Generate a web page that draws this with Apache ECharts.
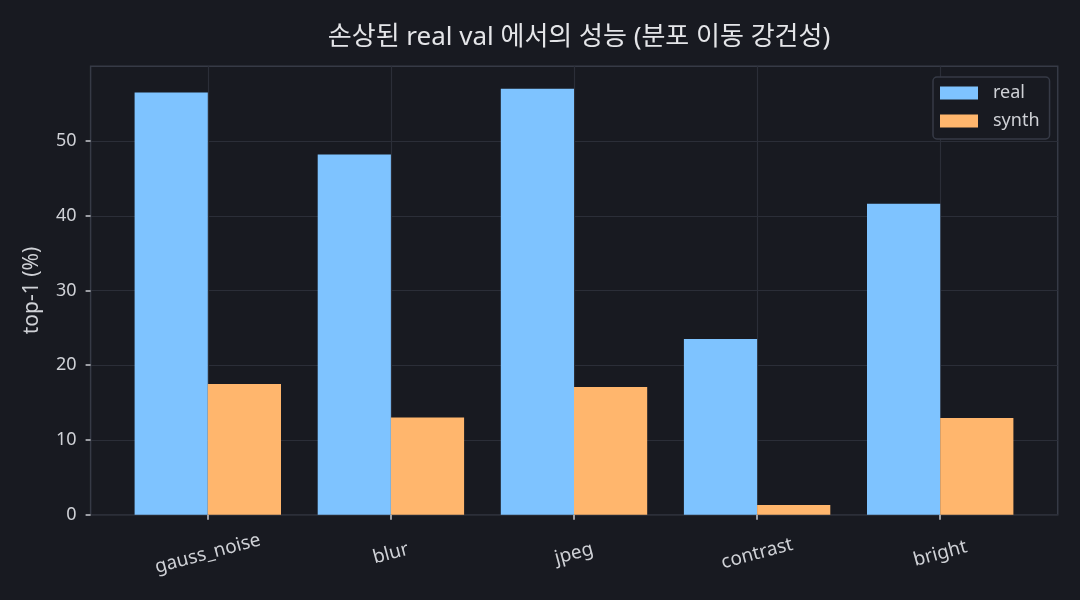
<!DOCTYPE html>
<html>
<head>
<meta charset="utf-8">
<script src="https://cdn.jsdelivr.net/npm/echarts@6/dist/echarts.min.js"></script>
<style>
html,body{margin:0;padding:0;background:#181a21;}
#chart{width:1080px;height:600px;}
</style>
</head>
<body>
<div id="chart"></div>
<script>
const categories = ['gauss_noise', 'blur', 'jpeg', 'contrast', 'bright'];
const realValues = [56.5, 48.2, 57.0, 23.5, 41.6];
const synthValues = [17.5, 13.0, 17.1, 1.3, 12.95];
const seriesNames = ['real', 'synth'];
const yTicks = [0, 10, 20, 30, 40, 50];
const titleText = '손상된 real val 에서의 성능 (분포 이동 강건성)';
const yAxisName = 'top-1 (%)';

const FONT = '"Noto Sans", "Noto Sans CJK KR", sans-serif';
const BG = '#181a21';
const GRID = '#2b2e38';
const FRAME = '#363a46';
const TEXT = '#cfd1d6';

const chart = echarts.init(document.getElementById('chart'), null, {renderer: 'canvas'});
chart.setOption({
  backgroundColor: BG,
  textStyle: {fontFamily: FONT},
  animation: false,
  title: {
    text: titleText,
    left: 574, textAlign: 'center', top: 20,
    textStyle: {color: '#e4e5e8', fontSize: 26, fontWeight: 'normal', fontFamily: FONT}
  },
  legend: {
    orient: 'vertical', left: 933, top: 77,
    padding: [7, 10, 9, 7], itemGap: 10,
    itemWidth: 38, itemHeight: 13,
    backgroundColor: BG, borderColor: FRAME, borderWidth: 1.5, borderRadius: 4,
    textStyle: {color: TEXT, fontSize: 18, fontFamily: FONT, padding: [0, 0, 0, 10]},
    icon: 'rect',
    data: seriesNames
  },
  grid: [
    {left: 90.6, right: 22.3, top: 66.3, bottom: 85.3, show: true, borderColor: FRAME, borderWidth: 1.5, backgroundColor: 'transparent'},
    {left: 207.8, width: 732.4, top: 66.3, bottom: 85.3}
  ],
  xAxis: [
    {gridIndex: 0, type: 'value', min: 0, max: 1, show: false},
    {
      gridIndex: 1, type: 'category', data: categories, boundaryGap: false,
      axisLine: {show: false},
      axisTick: {show: true, length: 5, lineStyle: {color: '#c8cacf', width: 1.5}},
      axisLabel: {color: TEXT, fontSize: 19, fontFamily: FONT, rotate: 15, align: 'center', verticalAlign: 'middle', margin: 39, interval: 0},
      splitLine: {show: true, lineStyle: {color: GRID, width: 1.2}}
    }
  ],
  yAxis: [
    {
      gridIndex: 0, type: 'value', min: 0, max: 60, interval: 10,
      name: yAxisName, nameLocation: 'middle', nameGap: 48,
      nameTextStyle: {color: TEXT, fontSize: 21, fontFamily: FONT},
      axisLine: {show: false},
      axisTick: {show: true, length: 5, customValues: yTicks, lineStyle: {color: '#c8cacf', width: 1.5}},
      axisLabel: {color: TEXT, fontSize: 18, fontFamily: FONT, margin: 14, customValues: yTicks},
      splitLine: {show: true, lineStyle: {color: GRID, width: 1.2}}
    },
    {gridIndex: 1, type: 'value', min: 0, max: 60, interval: 10, show: false, splitLine: {show: false}}
  ],
  series: [
    {
      name: seriesNames[0], type: 'bar', xAxisIndex: 1, yAxisIndex: 1,
      data: realValues, barWidth: 73.2, barGap: '0%', clip: false,
      itemStyle: {color: '#7ec3ff'}
    },
    {
      name: seriesNames[1], type: 'bar', xAxisIndex: 1, yAxisIndex: 1,
      data: synthValues, barWidth: 73.2, barGap: '0%', clip: false,
      itemStyle: {color: '#ffb66d'}
    }
  ]
});
</script>
</body>
</html>
